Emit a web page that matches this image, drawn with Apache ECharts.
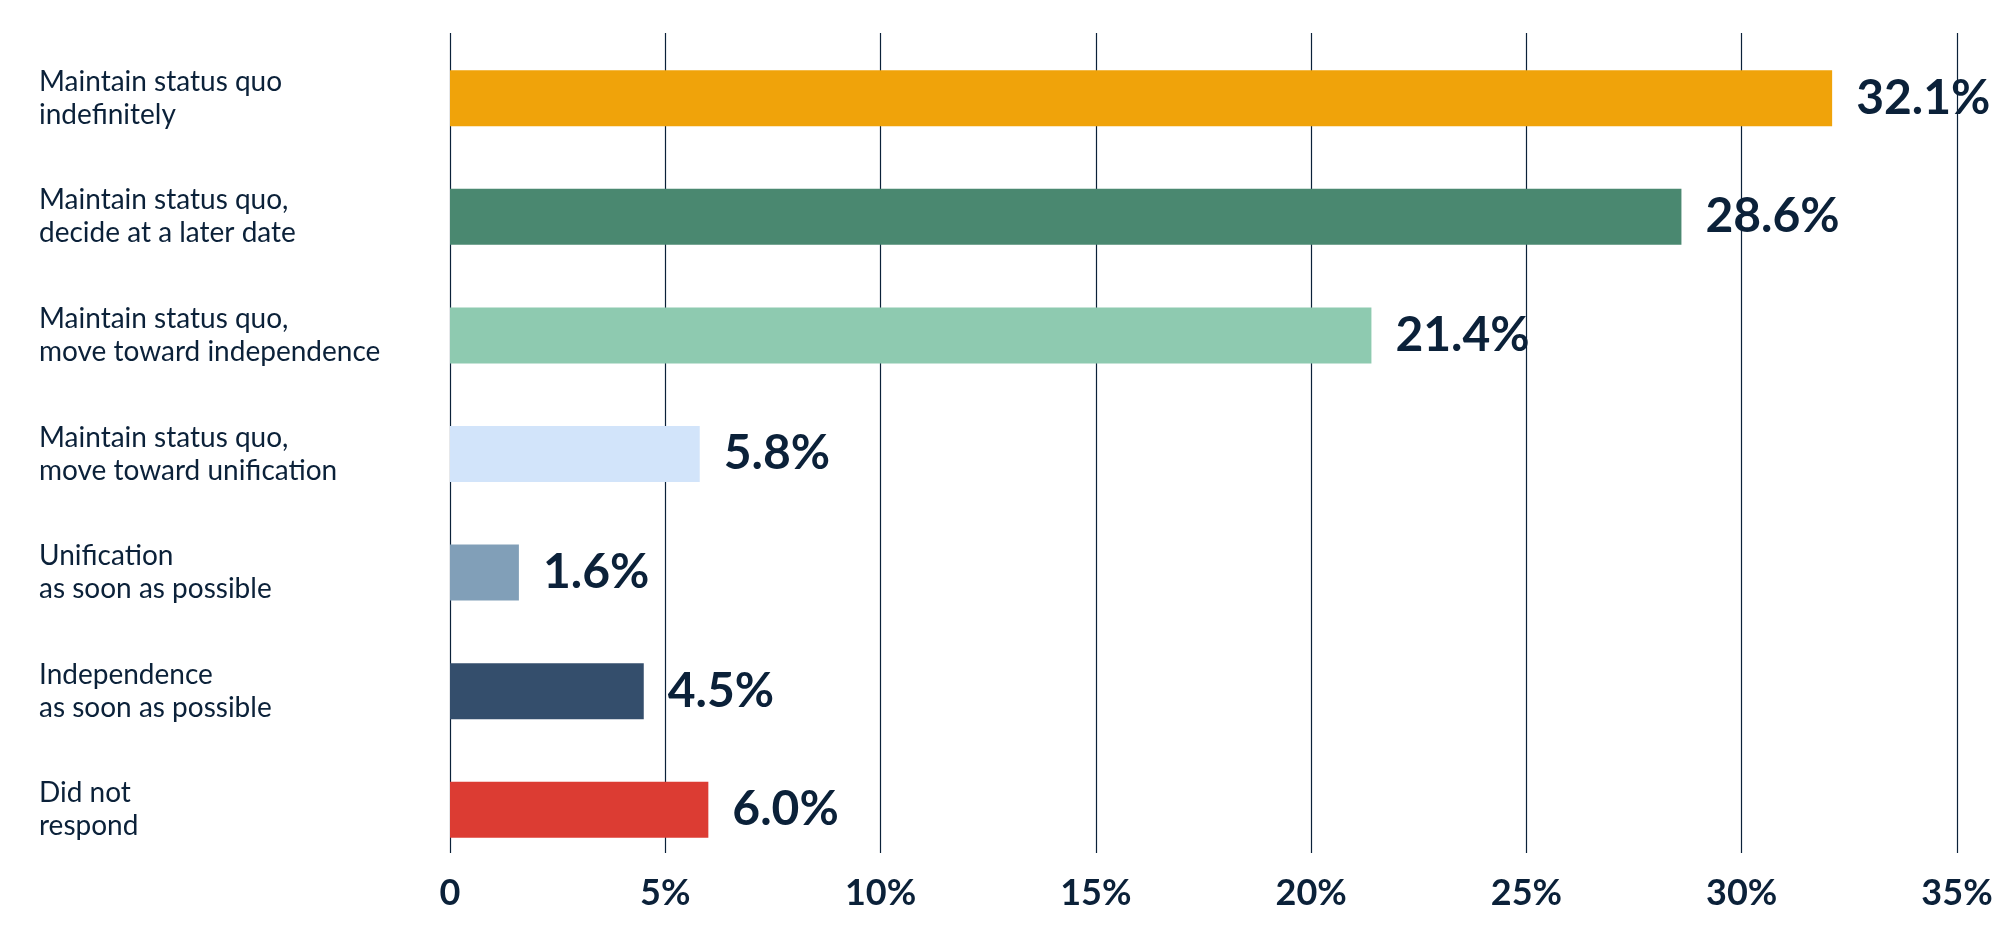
<!DOCTYPE html>
<html>
<head>
<meta charset="utf-8">
<script src="https://cdn.jsdelivr.net/npm/echarts@6/dist/echarts.min.js"></script>
<style>
html,body{margin:0;padding:0;background:#fff;}
#chart{width:2016px;height:948px;}
</style>
</head>
<body>
<div id="chart"></div>
<script>
const categories = [
  "Maintain status quo\nindefinitely",
  "Maintain status quo,\ndecide at a later date",
  "Maintain status quo,\nmove toward independence",
  "Maintain status quo,\nmove toward unification",
  "Unification\nas soon as possible",
  "Independence\nas soon as possible",
  "Did not\nrespond"
];
const values = [32.1, 28.6, 21.4, 5.8, 1.6, 4.5, 6.0];
const barColors = ["#F0A30A", "#4A8870", "#8ECAB0", "#D2E4FA", "#819FB8", "#344E6C", "#DC3C33"];
const tickMin = 0, tickMax = 35, tickStep = 5;

const navy = "#0B2139";
const chart = echarts.init(document.getElementById('chart'), null, {renderer: 'canvas'});
chart.setOption({
  animation: false,
  backgroundColor: '#ffffff',
  grid: [
    {left: 450, right: 59, top: 39, bottom: 79, containLabel: false},
    {left: 450, right: 59, top: 33, bottom: 95, containLabel: false}
  ],
  xAxis: [
    {gridIndex: 0, type: 'value', min: tickMin, max: tickMax, interval: tickStep,
     show: false},
    {gridIndex: 1, type: 'value', min: tickMin, max: tickMax, interval: tickStep,
     axisLine: {show: false}, axisTick: {show: false},
     splitLine: {show: true, lineStyle: {color: navy, width: 1.2}},
     axisLabel: {margin: 22, color: navy, fontFamily: 'Lato', fontWeight: 'bold', fontSize: 36,
       formatter: v => v === 0 ? '0' : v + '%'}}
  ],
  yAxis: [
    {gridIndex: 0, type: 'category', data: categories, inverse: true,
     axisLine: {show: false}, axisTick: {show: false}, splitLine: {show: false},
     axisLabel: {margin: 411, align: 'left', color: navy, fontFamily: 'Lato', fontSize: 28, lineHeight: 33}},
    {gridIndex: 1, type: 'value', show: false, min: 0, max: 1}
  ],
  series: [
    {type: 'bar', xAxisIndex: 0, yAxisIndex: 0, barWidth: 56,
     data: values.map((v, i) => ({value: v, itemStyle: {color: barColors[i]}})),
     label: {show: true, position: 'right', distance: 24, color: navy, fontFamily: 'Lato',
       fontWeight: 'bold', fontSize: 48, formatter: p => p.value.toFixed(1) + '%'},
     z: 3},
    {type: 'scatter', xAxisIndex: 1, yAxisIndex: 1, data: [], silent: true}
  ]
});
</script>
</body>
</html>
